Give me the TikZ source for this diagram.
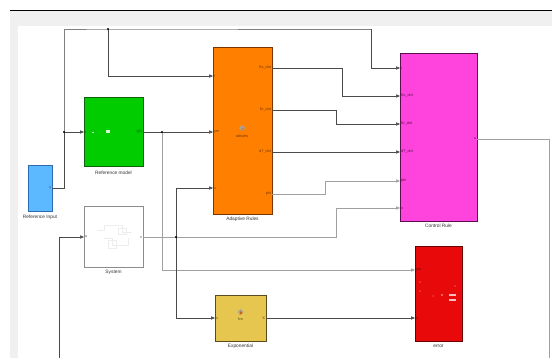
\documentclass[tikz,border=0pt]{standalone}
\usepackage{fontspec}
\setmainfont{Liberation Sans}
\usetikzlibrary{arrows.meta,calc}
\definecolor{bgGray}{HTML}{F0F0F0}
\definecolor{cBlue}{HTML}{5CB8FF}
\definecolor{cBlueD}{HTML}{2A6DB0}
\definecolor{cGreen}{HTML}{00CC00}
\definecolor{cGreenD}{HTML}{106010}
\definecolor{cOrange}{HTML}{FF8000}
\definecolor{cOrangeD}{HTML}{7A3500}
\definecolor{cMag}{HTML}{FF44DD}
\definecolor{cMagD}{HTML}{5A1050}
\definecolor{cYel}{HTML}{E6C64E}
\definecolor{cYelD}{HTML}{5A4A20}
\definecolor{cRed}{HTML}{E80A0A}
\definecolor{cRedD}{HTML}{6A0000}
\definecolor{wireD}{HTML}{4A4A4A}
\definecolor{wireL}{HTML}{A0A0A0}
\definecolor{wireM}{HTML}{808080}
\begin{document}
\begin{tikzpicture}[x=1pt,y=-1pt,
  blk/.style={draw, line width=0.8pt, inner sep=0pt, outer sep=0pt},
  lbl/.style={font=\fontsize{4.8}{5.5}\selectfont, text=black!80, inner sep=0pt, anchor=north},
  pl/.style={font=\fontsize{3.8}{4.5}\selectfont, inner sep=0.8pt},
  wire/.style={draw=wireD, line width=0.55pt},
  wirem/.style={draw=wireM, line width=0.55pt},
  wirel/.style={draw=wireL, line width=0.55pt},
  tip/.style={-{Triangle[length=4pt,width=3.2pt]}},
  jdot/.style={circle, fill=black, inner sep=0pt, minimum size=2.4pt}]
\useasboundingbox (0,0) rectangle (552,358);
% background
\fill[white] (0,0) rectangle (552,358);
\fill[bgGray] (10,10) rectangle (552,358);
\fill[white] (18,26) rectangle (552,358);
\draw[black, line width=0.9pt] (10,10) -- (552,10);

% blocks
\node[blk, fill=cBlue, draw=cBlueD, minimum width=24pt, minimum height=46pt] (refin) at (40,188) {};
\node[blk, fill=cGreen, draw=cGreenD, minimum width=59pt, minimum height=69pt] (refm) at (113.5,132) {};
\node[blk, fill=cOrange, draw=cOrangeD, minimum width=59pt, minimum height=167pt] (adapt) at (242.5,130.5) {};
\node[blk, fill=cMag, draw=cMagD, minimum width=77pt, minimum height=168pt] (ctrl) at (438.5,137) {};
\node[blk, fill=white, draw=black!45, minimum width=59pt, minimum height=61pt] (sys) at (113.5,236.5) {};
\node[blk, fill=cYel, draw=cYelD, minimum width=51pt, minimum height=46pt] (expo) at (240.5,318) {};
\node[blk, fill=cRed, draw=cRedD, minimum width=47pt, minimum height=95pt] (err) at (438.5,293.5) {};

% block labels
\node[lbl] (refinL) at ($(refin.south)+(0,4)$) {Reference Input};
\node[lbl] (refmL) at ($(refm.south)+(0,4)$) {Reference model};
\node[lbl] (adaptL) at ($(adapt.south)+(0,3)$) {Adaptive Rules};
\node[lbl] (ctrlL) at ($(ctrl.south)+(0,3)$) {Control Rule};
\node[lbl] (sysL) at ($(sys.south)+(0,3)$) {System};
\node[lbl] (expoL) at ($(expo.south)+(0,3)$) {Exponential};
\node[lbl] (errL) at ($(err.south)+(0,4)$) {error};

% port coordinates
\coordinate (riOut) at (refin.east);
\coordinate (rmIn) at (refm.west);
\coordinate (rmOut) at (refm.east);
\coordinate (adR) at (adapt.west |- 0,76);
\coordinate (adYm) at (adapt.west |- 0,132);
\coordinate (adX) at (adapt.west |- 0,188);
\coordinate (adKx) at (adapt.east |- 0,68);
\coordinate (adKr) at (adapt.east |- 0,110);
\coordinate (adDT) at (adapt.east |- 0,152);
\coordinate (adPhi) at (adapt.east |- 0,194);
\coordinate (crR) at (ctrl.west |- 0,68);
\coordinate (crKx) at (ctrl.west |- 0,96);
\coordinate (crKr) at (ctrl.west |- 0,124);
\coordinate (crDT) at (ctrl.west |- 0,152);
\coordinate (crPhi) at (ctrl.west |- 0,181);
\coordinate (crX) at (ctrl.west |- 0,208);
\coordinate (crU) at (ctrl.east |- 0,139);
\coordinate (sysIn) at (sys.west |- 0,237);
\coordinate (sysOut) at (sys.east |- 0,237);
\coordinate (exIn) at (expo.west);
\coordinate (exOut) at (expo.east);
\coordinate (erIn1) at (err.west |- 0,270);
\coordinate (erIn2) at (err.west |- 0,318);
\coordinate (jA) at (64,132);
\coordinate (topL) at (64,29);
\coordinate (jB) at (108,29);
\coordinate (topR) at (371,29);
\coordinate (jC) at (162,132);
\coordinate (jD) at (176,237);
\coordinate (uEnd) at (549,358);
\coordinate (fbEnd) at (59,358);

% port labels
\node[pl, anchor=east, text=cBlueD] (riOutL) at (riOut) {q};
\node[pl, anchor=west, text=cGreenD] (rmInL) at (rmIn) {r};
\node[pl, anchor=east, text=cGreenD] (rmOutL) at (rmOut) {y(t)};
\node[pl, anchor=west, text=cOrangeD] (adRL) at (adR) {r};
\node[pl, anchor=west, text=cOrangeD] (adYmL) at (adYm) {ym};
\node[pl, anchor=west, text=cOrangeD] (adXL) at (adX) {x};
\node[pl, anchor=east, text=cOrangeD] (adKxL) at (adKx) {Kx\_dot};
\node[pl, anchor=east, text=cOrangeD] (adKrL) at (adKr) {Kr\_dot};
\node[pl, anchor=east, text=cOrangeD] (adDTL) at (adDT) {dT\_dot};
\node[pl, anchor=east, text=cOrangeD] (adPhiL) at (adPhi) {phi};
\node[pl, anchor=west, text=cMagD] (crRL) at (crR) {r};
\node[pl, anchor=west, text=cMagD] (crKxL) at (crKx) {Kx\_dot};
\node[pl, anchor=west, text=cMagD] (crKrL) at (crKr) {Kr\_dot};
\node[pl, anchor=west, text=cMagD] (crDTL) at (crDT) {dT\_dot};
\node[pl, anchor=west, text=cMagD] (crPhiL) at (crPhi) {phi};
\node[pl, anchor=west, text=cMagD] (crXL) at (crX) {x};
\node[pl, anchor=east, text=cMagD] (crUL) at (crU) {u};
\node[pl, anchor=west, text=black!70] (sysInL) at (sysIn) {u};
\node[pl, anchor=east, text=black!70] (sysOutL) at (sysOut) {x};
\node[pl, anchor=west, text=cYelD] (exInL) at (exIn) {x};
\node[pl, anchor=east, text=cYelD] (exOutL) at (exOut) {X};
\node[pl, anchor=west, text=cRedD] (erIn1L) at (erIn1) {ym};
\node[pl, anchor=west, text=cRedD] (erIn2L) at (erIn2) {x};

% block inner marks
\fill[white!85!cGreen] (92,131.6) rectangle (94,132.4);
\fill[white!85!cGreen] (106,130.5) rectangle (110,133);
\fill[gray!70] (242,125) -- (245,128) -- (242,131) -- (239,128) -- cycle;
\fill[cOrangeD!60] (242,127) -- (244,129) -- (241,131) -- cycle;
\node[pl, text=cOrangeD] (adIcon) at (242,136) {adrules};
\fill[gray!70] (240.5,309) -- (243.5,312) -- (240.5,315) -- (237.5,312) -- cycle;
\fill[orange!80!black] (240.5,311) -- (242.5,313) -- (239.5,315) -- cycle;
\node[pl, text=cYelD] (exIcon) at (240.5,319.5) {fcn};
\begin{scope}[draw=black!7, line width=0.4pt]
  \draw (97,230) -- (104,230) -- (104,225) -- (122,225) -- (122,232) -- (132,232);
  \draw (104,238) -- (112,238) -- (112,245) -- (128,245) -- (128,238);
  \draw (118,228) rectangle (126,234);
  \draw (108,240) rectangle (116,248);
\end{scope}
\fill[red!40!white] (420,282) circle (0.6pt);
\fill[red!40!white] (420,291) circle (0.6pt);
\fill[red!40!white] (433,296) circle (0.6pt);
\fill[red!40!white] (455,286) circle (0.6pt);
\fill[red!30!white] (442,295) circle (0.9pt);
\fill[red!25!white] (449,294) rectangle (456,296);
\fill[red!25!white] (449,299) rectangle (456,301);

% connectors
\draw[wire] (riOut) -| (jA);
\draw[wire, tip] (jA) -- (rmIn);
\draw[wirem] (jA) -- (topL) -- (jB) -- (topR);
\draw[wire, tip] (topR) |- (crR);
\draw[wire, tip] (jB) |- (adR);
\draw[wire] (rmOut) -- (jC);
\draw[wire, tip] (jC) -- (adYm);
\draw[wirel, tip] (jC) |- (erIn1);
\draw[wire, tip] (adKx) -- ++(70,0) |- (crKx);
\draw[wire, tip] (adKr) -- ++(64,0) |- (crKr);
\draw[wire, tip] (adDT) -- (crDT);
\draw[wirel, tip] (adPhi) -- ++(53,0) |- (crPhi);
\draw[wirel] (sysOut) -- (jD);
\draw[wirel, tip] (jD) -- ++(160,0) |- (crX);
\draw[wire, tip] (jD) |- (adX);
\draw[wire, tip] (jD) |- (exIn);
\draw[wire, tip] (exOut) -- (erIn2);
\draw[wirel] (crU) -| (uEnd);
\draw[wire, tip] (fbEnd) |- (sysIn);

% junctions
\node[jdot] (dA) at (jA) {};
\node[jdot] (dB) at (jB) {};
\node[jdot] (dC) at (jC) {};
\node[jdot] (dD) at (jD) {};
\end{tikzpicture}
\end{document}
